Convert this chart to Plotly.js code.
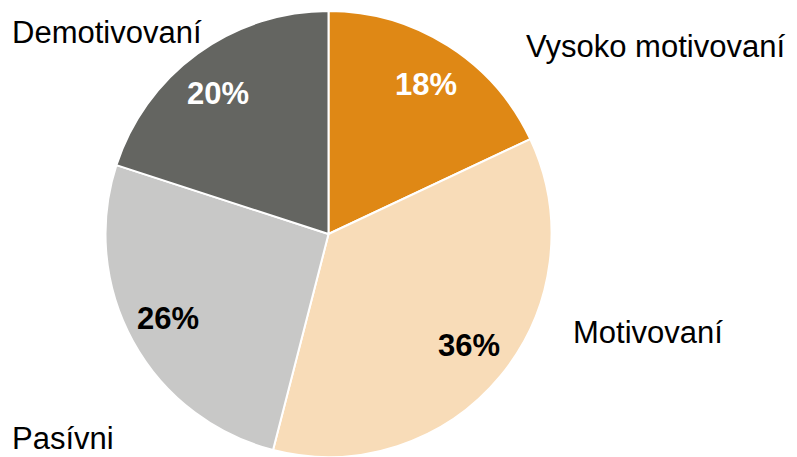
<!DOCTYPE html>
<html>
<head>
<meta charset="utf-8">
<script src="https://cdn.plot.ly/plotly-3.0.1.min.js"></script>
<style>html,body{margin:0;padding:0;background:#fff;}#chart{width:797px;height:457px;}</style>
</head>
<body>
<div id="chart"></div>
<script>
const categories = ["Vysoko motivovaní", "Motivovaní", "Pasívni", "Demotivovaní"];
const shares = [18, 36, 26, 20];
const sliceColors = ["#DF8815", "#F8DCB8", "#C8C8C7", "#646561"];
const textColors = ["#ffffff", "#000000", "#000000", "#ffffff"];

const labelPos = [
  {x: 655.5, y: 46},
  {x: 647.5, y: 332},
  {x: 63, y: 438},
  {x: 107, y: 32}
];
const pctPos = [
  {x: 426, y: 85},
  {x: 469, y: 345},
  {x: 168, y: 318},
  {x: 218, y: 93}
];

const W = 797, H = 457;
const FONT = "Liberation Sans, Arial, sans-serif";
const trace = {
  type: "pie",
  labels: categories,
  values: shares,
  sort: false,
  direction: "clockwise",
  rotation: 0,
  marker: {colors: sliceColors, line: {color: "#ffffff", width: 2}},
  textinfo: "none",
  hoverinfo: "none",
  showlegend: false,
  domain: {x: [105.5 / W, 551.5 / W], y: [0, 446 / H]}
};

const annotations = categories.map((c, i) => ({
  text: c,
  xref: "paper", yref: "paper",
  x: labelPos[i].x / W, y: 1 - labelPos[i].y / H,
  xanchor: "center", yanchor: "middle",
  showarrow: false,
  font: {family: FONT, size: 31, color: "#000000"}
})).concat(shares.map((v, i) => ({
  text: "<b>" + v + "%</b>",
  xref: "paper", yref: "paper",
  x: pctPos[i].x / W, y: 1 - pctPos[i].y / H,
  xanchor: "center", yanchor: "middle",
  showarrow: false,
  font: {family: FONT, size: 31, color: textColors[i]}
})));

Plotly.newPlot("chart", [trace], {
  width: W, height: H,
  margin: {l: 0, r: 0, t: 0, b: 0},
  paper_bgcolor: "#ffffff",
  showlegend: false,
  annotations: annotations
}, {displayModeBar: false, staticPlot: true});
</script>
</body>
</html>
